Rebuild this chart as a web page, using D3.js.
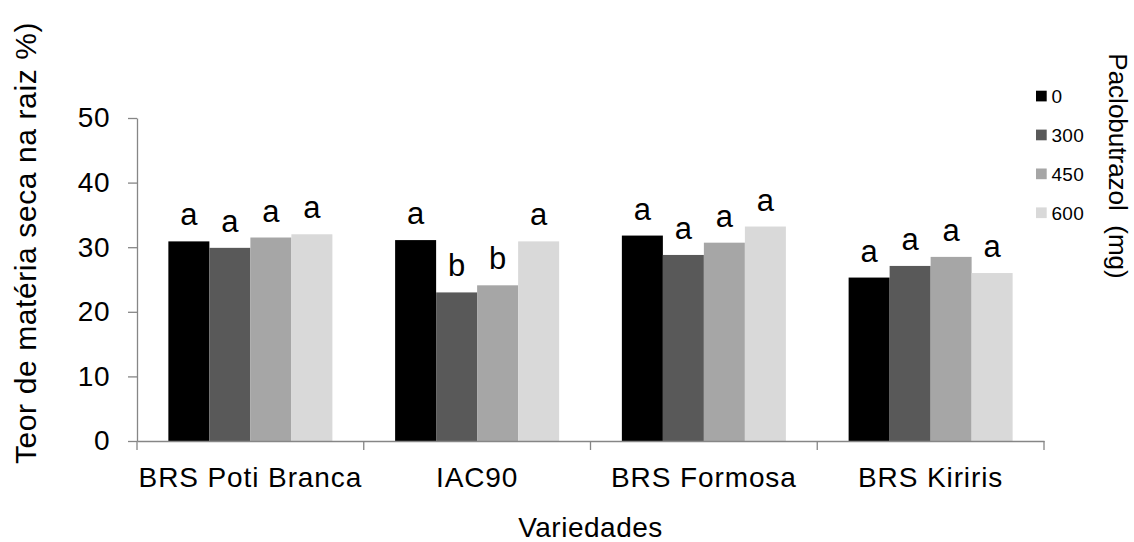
<!DOCTYPE html>
<html>
<head>
<meta charset="utf-8">
<script src="https://cdn.jsdelivr.net/npm/d3@7"></script>
<style>
  body { margin: 0; background: #fff; }
  svg { display: block; font-family: "Liberation Sans", Arial, sans-serif; }
</style>
</head>
<body>
<svg id="chart" width="1134" height="542"></svg>
<script>
const categories = ['BRS Poti Branca', 'IAC90', 'BRS Formosa', 'BRS Kiriris'];
const doses = ['0', '300', '450', '600'];
const dose0 = [30.9, 31.1, 31.8, 25.3];
const dose300 = [29.9, 23.0, 28.8, 27.1];
const dose450 = [31.5, 24.1, 30.7, 28.5];
const dose600 = [32.0, 30.9, 33.2, 26.0];
const letters0 = ['a', 'a', 'a', 'a'];
const letters300 = ['a', 'b', 'a', 'a'];
const letters450 = ['a', 'b', 'a', 'a'];
const letters600 = ['a', 'a', 'a', 'a'];
const yTicks = [0, 10, 20, 30, 40, 50];
const colors = ['#000000', '#595959', '#a6a6a6', '#d9d9d9'];

const seriesValues = [dose0, dose300, dose450, dose600];
const seriesLetters = [letters0, letters300, letters450, letters600];
const rows = [];
categories.forEach((c, i) => {
    doses.forEach((d, j) => {
        rows.push({ cat: c, dose: d, value: seriesValues[j][i], letter: seriesLetters[j][i] });
    });
});

const svg = d3.select('svg#chart');
const plotLeft = 137, plotRight = 1044, plotTop = 118, plotBottom = 441;
const axisColor = '#868686';

const x0 = d3.scaleBand()
    .domain(categories)
    .range([plotLeft, plotRight])
    .padding(0);
const x1 = d3.scaleBand()
    .domain(doses)
    .range([0, x0.bandwidth()])
    .paddingInner(0)
    .paddingOuter(0.765);
const y = d3.scaleLinear()
    .domain([0, 50])
    .range([plotBottom, plotTop]);
const color = d3.scaleOrdinal().domain(doses).range(colors);

// bars
svg.append('g').selectAll('rect')
    .data(rows)
    .enter()
    .append('rect')
    .attr('x', d => x0(d.cat) + x1(d.dose))
    .attr('y', d => y(d.value))
    .attr('width', x1.bandwidth())
    .attr('height', d => y(0) - y(d.value))
    .attr('fill', d => color(d.dose));

// significance letters
svg.append('g').selectAll('text')
    .data(rows)
    .enter()
    .append('text')
    .attr('x', d => x0(d.cat) + x1(d.dose) + x1.bandwidth() / 2)
    .attr('y', d => y(d.value) - 16)
    .attr('text-anchor', 'middle')
    .attr('font-size', 31)
    .attr('fill', '#000')
    .text(d => d.letter);

// y axis
const yAxis = svg.append('g')
    .attr('transform', `translate(${plotLeft}, 0)`)
    .call(d3.axisLeft(y)
        .tickValues(yTicks)
        .tickSizeInner(9)
        .tickSizeOuter(0)
        .tickPadding(18));
yAxis.selectAll('path, line').attr('stroke', axisColor).attr('stroke-width', 1.3);
yAxis.selectAll('text')
    .attr('font-size', 28)
    .attr('letter-spacing', 0.5)
    .attr('fill', '#000')
    .attr('font-family', '"Liberation Sans", Arial, sans-serif');

// x axis with labels at band centres
const xAxis = svg.append('g')
    .attr('transform', `translate(0, ${plotBottom})`)
    .call(d3.axisBottom(x0)
        .tickSize(0)
        .tickSizeOuter(0)
        .tickPadding(26));
xAxis.select('path').attr('stroke', axisColor).attr('stroke-width', 1.3);
xAxis.selectAll('text')
    .attr('font-size', 28)
    .attr('letter-spacing', 0.9)
    .attr('fill', '#000')
    .attr('font-family', '"Liberation Sans", Arial, sans-serif');

// category boundary ticks
const bounds = d3.range(categories.length + 1).map(i => plotLeft + i * x0.step());
svg.append('g').selectAll('line')
    .data(bounds)
    .enter()
    .append('line')
    .attr('x1', d => d).attr('x2', d => d)
    .attr('y1', plotBottom).attr('y2', plotBottom + 9)
    .attr('stroke', axisColor)
    .attr('stroke-width', 1.3);

// axis titles
svg.append('text')
    .attr('transform', 'translate(36, 243) rotate(-90)')
    .attr('text-anchor', 'middle')
    .attr('font-size', 30)
    .attr('letter-spacing', 0.6)
    .text('Teor de matéria seca na raiz %)');

svg.append('text')
    .attr('x', (plotLeft + plotRight) / 2)
    .attr('y', 537)
    .attr('text-anchor', 'middle')
    .attr('font-size', 28)
    .attr('letter-spacing', 0.5)
    .text('Variedades');

svg.append('text')
    .attr('transform', 'translate(1109, 166) rotate(90)')
    .attr('text-anchor', 'middle')
    .attr('font-size', 26)
    .style('white-space', 'pre')
    .text('Paclobutrazol  (mg)');

// legend
const legend = svg.append('g').selectAll('g')
    .data(doses)
    .enter()
    .append('g')
    .attr('transform', (d, i) => `translate(1036, ${96 + i * 38.9})`);
legend.append('rect')
    .attr('x', 0)
    .attr('y', -5.3)
    .attr('width', 10.7)
    .attr('height', 10.7)
    .attr('fill', d => color(d));
legend.append('text')
    .attr('x', 15.5)
    .attr('y', 7)
    .attr('font-size', 19)
    .attr('letter-spacing', 0.3)
    .text(d => d);
</script>
</body>
</html>
